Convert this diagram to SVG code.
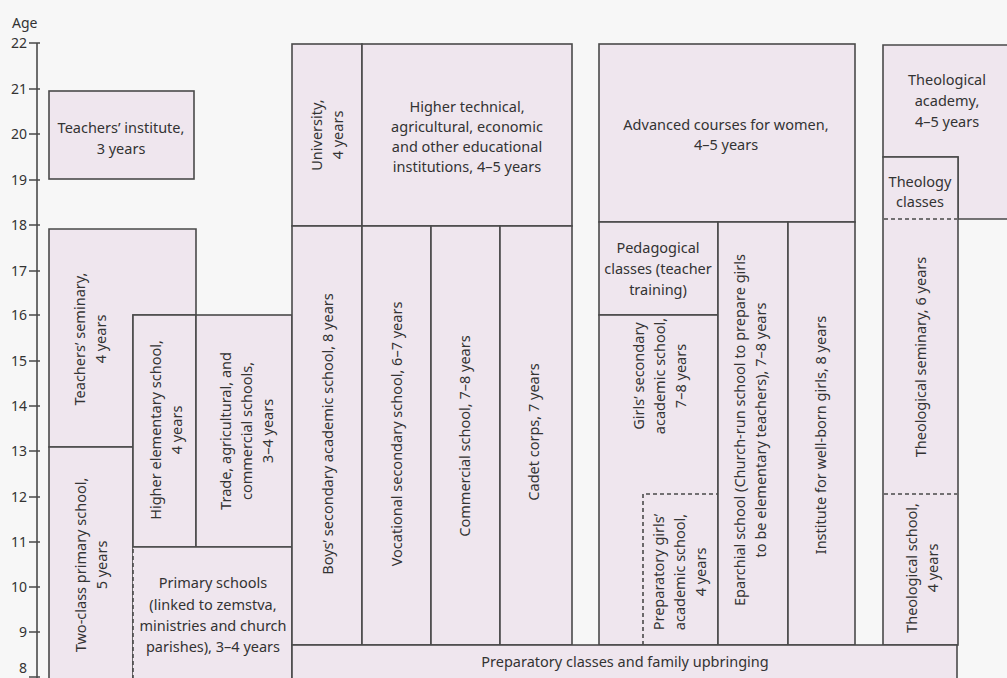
<svg xmlns="http://www.w3.org/2000/svg" width="1007" height="678" viewBox="0 0 1007 678">
<style>
.bg{fill:#f7f7f7}
.box{fill:#efe6ee;stroke:#4a4a4a;stroke-width:1.6}
.fill{fill:#efe6ee;stroke:none}
.ln{fill:none;stroke:#4a4a4a;stroke-width:1.6}
.dash{fill:none;stroke:#4a4a4a;stroke-width:1.6;stroke-dasharray:4 3}
.t{font-family:"Noto Sans","Open Sans",sans-serif;font-size:14.5px;fill:#333333;text-anchor:middle}
.ax{font-family:"Noto Sans","Open Sans",sans-serif;font-size:14px;fill:#333333;text-anchor:end}
</style>
<rect class="bg" x="0" y="0" width="1007" height="678"/>

<g id="axis">
<text class="ax" x="12" y="28" style="text-anchor:start">Age</text>
<line class="ln" x1="37" y1="43" x2="37" y2="690" stroke-width="2"/>
<g class="ln">
<path d="M29 43H40M29 89H40M29 134H40M29 180H40M29 225H40M29 271H40M29 315H40M29 361H40M29 406H40M29 451H40M29 497H40M29 542H40M29 587H40M29 632H40M29 677H40"/>
</g>
<text class="ax" x="27" y="48">22</text>
<text class="ax" x="27" y="94">21</text>
<text class="ax" x="27" y="139">20</text>
<text class="ax" x="27" y="185">19</text>
<text class="ax" x="27" y="230">18</text>
<text class="ax" x="27" y="276">17</text>
<text class="ax" x="27" y="320">16</text>
<text class="ax" x="27" y="366">15</text>
<text class="ax" x="27" y="411">14</text>
<text class="ax" x="27" y="456">13</text>
<text class="ax" x="27" y="502">12</text>
<text class="ax" x="27" y="547">11</text>
<text class="ax" x="27" y="592">10</text>
<text class="ax" x="27" y="637">9</text>
<text class="ax" x="27" y="673">8</text>
</g>

<g id="teachers-institute">
<rect class="box" x="49" y="91" width="145" height="88"/>
<text class="t" x="121" y="133">Teachers’ institute,</text>
<text class="t" x="121" y="154">3 years</text>
</g>

<g id="teachers-seminary">
<path class="box" d="M49 229H196V315H133V447H49Z"/>
<text class="t" transform="translate(90,339) rotate(-90)"><tspan x="0" y="-5.5">Teachers’ seminary,</tspan><tspan x="0" y="15.5">4 years</tspan></text>
</g>

<g id="two-class-primary">
<rect class="box" x="49" y="447" width="84" height="250"/>
<text class="t" transform="translate(91,565) rotate(-90)"><tspan x="0" y="-5.5">Two-class primary school,</tspan><tspan x="0" y="15.5">5 years</tspan></text>
</g>

<g id="higher-elementary">
<rect class="box" x="133" y="315" width="63" height="232"/>
<text class="t" transform="translate(166,430) rotate(-90)"><tspan x="0" y="-5.5">Higher elementary school,</tspan><tspan x="0" y="15.5">4 years</tspan></text>
</g>

<g id="trade-schools">
<rect class="box" x="196" y="315" width="96" height="232"/>
<text class="t" transform="translate(247,431) rotate(-90)"><tspan x="0" y="-16">Trade, agricultural, and</tspan><tspan x="0" y="5">commercial schools,</tspan><tspan x="0" y="26">3–4 years</tspan></text>
</g>

<g id="primary-schools">
<rect class="fill" x="133" y="547" width="159" height="150"/>
<path class="ln" d="M133 547H292V697"/>
<path class="dash" d="M133 549V697"/>
<text class="t" x="213" y="588">Primary schools</text>
<text class="t" x="213" y="610">(linked to zemstva,</text>
<text class="t" x="213" y="631">ministries and church</text>
<text class="t" x="213" y="652">parishes), 3–4 years</text>
</g>

<g id="university">
<rect class="box" x="292" y="44" width="70" height="182"/>
<text class="t" transform="translate(327,135) rotate(-90)"><tspan x="0" y="-5.5">University,</tspan><tspan x="0" y="15.5">4 years</tspan></text>
</g>

<g id="higher-technical">
<rect class="box" x="362" y="44" width="210" height="182"/>
<text class="t" x="467" y="112">Higher technical,</text>
<text class="t" x="467" y="132">agricultural, economic</text>
<text class="t" x="467" y="152">and other educational</text>
<text class="t" x="467" y="172">institutions, 4–5 years</text>
</g>

<g id="boys-secondary">
<rect class="box" x="292" y="226" width="70" height="419"/>
<text class="t" transform="translate(328,434) rotate(-90)" y="5">Boys’ secondary academic school, 8 years</text>
</g>

<g id="vocational-secondary">
<rect class="box" x="362" y="226" width="69" height="419"/>
<text class="t" transform="translate(397,434) rotate(-90)" y="5">Vocational secondary school, 6–7 years</text>
</g>

<g id="commercial-school">
<rect class="box" x="431" y="226" width="69" height="419"/>
<text class="t" transform="translate(465,436) rotate(-90)" y="5">Commercial school, 7–8 years</text>
</g>

<g id="cadet-corps">
<rect class="box" x="500" y="226" width="72" height="419"/>
<text class="t" transform="translate(534,432) rotate(-90)" y="5">Cadet corps, 7 years</text>
</g>

<g id="advanced-courses">
<rect class="box" x="599" y="44" width="256" height="178"/>
<text class="t" x="726" y="130">Advanced courses for women,</text>
<text class="t" x="726" y="150">4–5 years</text>
</g>

<g id="pedagogical-classes">
<rect class="box" x="599" y="222" width="119" height="93"/>
<text class="t" x="658" y="253">Pedagogical</text>
<text class="t" x="658" y="274">classes (teacher</text>
<text class="t" x="658" y="295">training)</text>
</g>

<g id="girls-secondary">
<rect class="box" x="599" y="315" width="119" height="330"/>
<text class="t" transform="translate(660,376) rotate(-90)"><tspan x="0" y="-16">Girls’ secondary</tspan><tspan x="0" y="5">academic school,</tspan><tspan x="0" y="26">7–8 years</tspan></text>
</g>

<g id="preparatory-girls">
<path class="dash" d="M643 645V494H718"/>
<text class="t" transform="translate(680,572) rotate(-90)"><tspan x="0" y="-16">Preparatory girls’</tspan><tspan x="0" y="5">academic school,</tspan><tspan x="0" y="26">4 years</tspan></text>
</g>

<g id="eparchial-school">
<rect class="box" x="718" y="222" width="70" height="423"/>
<text class="t" transform="translate(750,430) rotate(-90)"><tspan x="0" y="-5.5">Eparchial school (Church-run school to prepare girls</tspan><tspan x="0" y="15.5">to be elementary teachers), 7–8 years</tspan></text>
</g>

<g id="institute-well-born">
<rect class="box" x="788" y="222" width="67" height="423"/>
<text class="t" transform="translate(821,435) rotate(-90)" y="5">Institute for well-born girls, 8 years</text>
</g>

<g id="theological-academy">
<path class="box" d="M883 45H1015V219H958V157H883Z"/>
<text class="t" x="947" y="85">Theological</text>
<text class="t" x="947" y="106">academy,</text>
<text class="t" x="947" y="127">4–5 years</text>
</g>

<g id="theology-classes">
<rect class="box" x="883" y="157" width="75" height="488"/>
<text class="t" x="920" y="187">Theology</text>
<text class="t" x="920" y="207">classes</text>
</g>

<g id="theological-seminary">
<path class="dash" d="M884 219H957"/>
<text class="t" transform="translate(921,357) rotate(-90)" y="5">Theological seminary, 6 years</text>
</g>

<g id="theological-school">
<path class="dash" d="M884 494H957"/>
<text class="t" transform="translate(922,568) rotate(-90)"><tspan x="0" y="-5.5">Theological school,</tspan><tspan x="0" y="15.5">4 years</tspan></text>
</g>

<g id="preparatory-classes">
<rect class="box" x="292" y="645" width="665" height="52"/>
<text class="t" x="625" y="667">Preparatory classes and family upbringing</text>
</g>

<g id="connectors"></g>
</svg>
